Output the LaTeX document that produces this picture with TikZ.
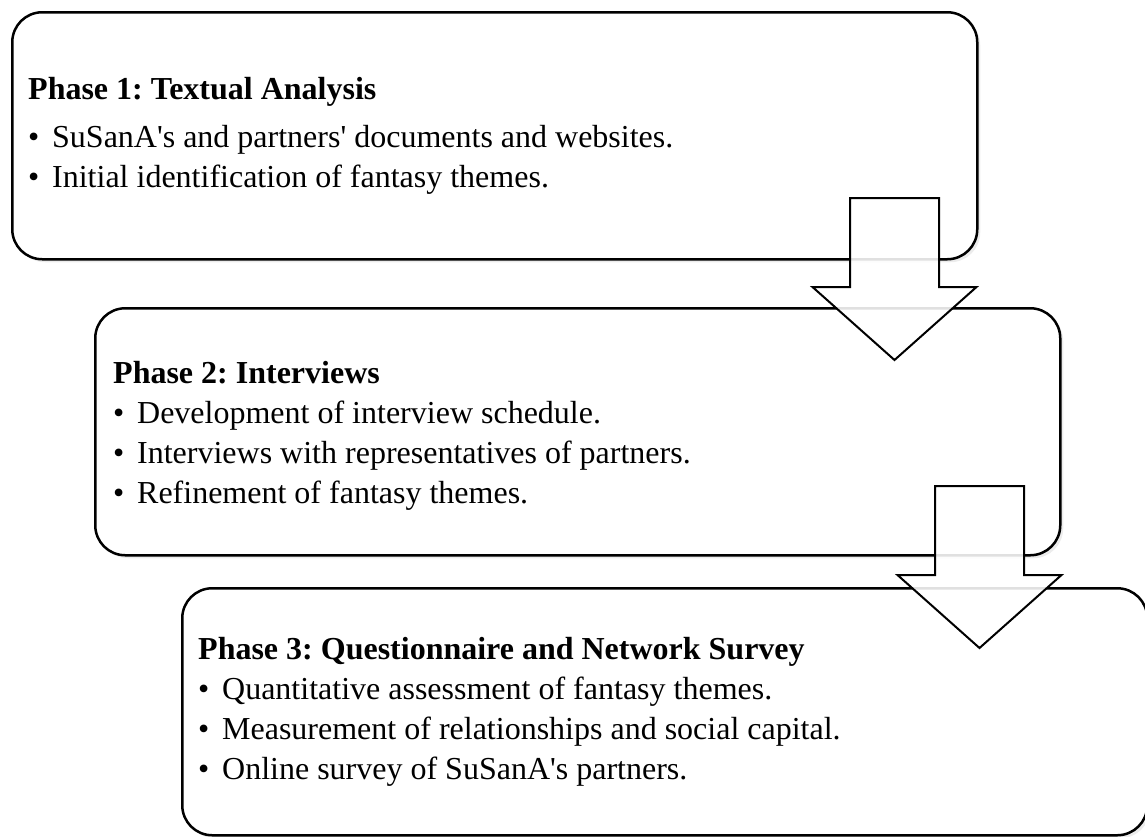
\documentclass[tikz,border=0pt]{standalone}
\usepackage{fontspec}
\setmainfont{Liberation Serif}
\usetikzlibrary{shadows}

\newcommand{\bul}{\makebox[24pt][l]{\textbullet}}
\newcommand{\aps}{\textquotesingle}

\tikzset{
  phasebox/.style={draw, line width=2.5pt, rounded corners=30pt, fill=white,
    minimum width=965pt, minimum height=247pt, anchor=north west,
    drop shadow={shadow xshift=3pt, shadow yshift=-3pt, opacity=0.15}},
  phasetext/.style={anchor=north west, align=left, inner sep=0pt,
    font=\fontsize{32}{40}\selectfont\frenchspacing},
  arrowline/.style={draw, line width=2pt, fill=white, fill opacity=0.88, line join=miter},
  pics/phasearrow/.style={code={
    \path[arrowline] (-44.5,0) -- (44.5,0) -- (44.5,89) -- (82,89) -- (0,162)
      -- (-82,89) -- (-44.5,89) -- cycle;
  }}
}

\begin{document}
\begin{tikzpicture}[x=1pt, y=-1pt]
  \useasboundingbox (0,0) rectangle (1145,836);

  % the three phases
  \node[phasebox] (box1) at (11,11) {};
  \node[phasebox] (box2) at (94,307) {};
  \node[phasebox] (box3) at (181,587) {};

  \node[phasetext] (t1) at ([xshift=17pt, yshift=-66pt]box1.north west)
    {\textbf{Phase 1: Textual Analysis}\\[8pt]
     \bul SuSanA\aps s and partners\aps{} documents and websites.\\
     \bul Initial identification of fantasy themes.};

  \node[phasetext] (t2) at ([xshift=19pt, yshift=-54pt]box2.north west)
    {\textbf{Phase 2: Interviews}\\
     \bul Development of interview schedule.\\
     \bul Interviews with representatives of partners.\\
     \bul Refinement of fantasy themes.};

  \node[phasetext] (t3) at ([xshift=17pt, yshift=-50pt]box3.north west)
    {\textbf{Phase 3: Questionnaire and Network Survey}\\
     \bul Quantitative assessment of fantasy themes.\\
     \bul Measurement of relationships and social capital.\\
     \bul Online survey of SuSanA\aps s partners.};

  % arrows between the phases
  \pic at (894.5,198) {phasearrow};
  \pic at (979.5,486) {phasearrow};
\end{tikzpicture}
\end{document}
